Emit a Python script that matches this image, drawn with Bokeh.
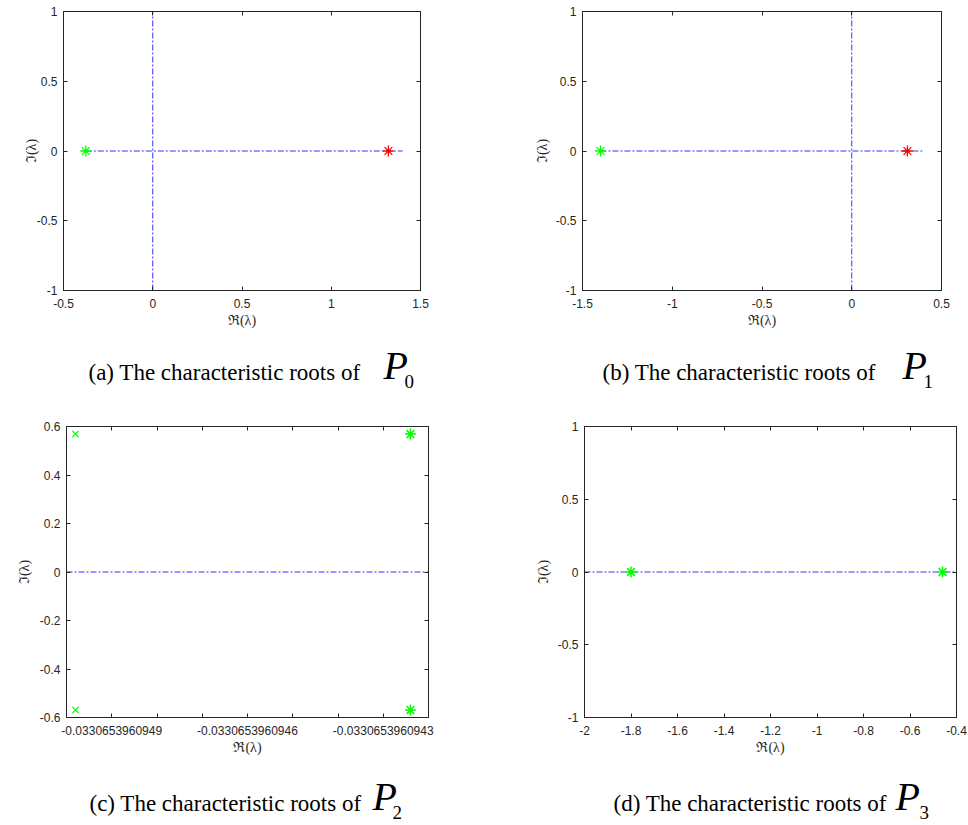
from bokeh.plotting import figure
from bokeh.models import FixedTicker, LinearAxis, Label, Range1d
from bokeh.layouts import column, row
from bokeh.embed import file_html
from bokeh.resources import INLINE

GREEN = "#00ff00"
RED = "#ff0000"
BLUE = "#0000ff"
INK = "#262626"

# ---------------- data ----------------
# (a) P0
a_re = [-0.375, 1.32]
a_im = [0.0, 0.0]
a_col = [GREEN, RED]
a_hline_x = [-0.375, 1.40]
a_hline_y = [0.0, 0.0]
a_vline_x = [0.0, 0.0]
a_vline_y = [-1.0, 1.0]
a_xrange = [-0.5, 1.5]
a_yrange = [-1.0, 1.0]
a_xticks = [-0.5, 0.0, 0.5, 1.0, 1.5]
a_xlabels = ["-0.5", "0", "0.5", "1", "1.5"]
a_yticks = [-1.0, -0.5, 0.0, 0.5, 1.0]
a_ylabels = ["-1", "-0.5", "0", "0.5", "1"]

# (b) P1
b_re = [-1.40, 0.31]
b_im = [0.0, 0.0]
b_col = [GREEN, RED]
b_hline_x = [-1.40, 0.40]
b_hline_y = [0.0, 0.0]
b_vline_x = [0.0, 0.0]
b_vline_y = [-1.0, 1.0]
b_xrange = [-1.5, 0.5]
b_yrange = [-1.0, 1.0]
b_xticks = [-1.5, -1.0, -0.5, 0.0, 0.5]
b_xlabels = ["-1.5", "-1", "-0.5", "0", "0.5"]
b_yticks = [-1.0, -0.5, 0.0, 0.5, 1.0]
b_ylabels = ["-1", "-0.5", "0", "0.5", "1"]

# (c) P2
c_cross_re = [-0.03306539609498, -0.03306539609498]
c_cross_im = [0.569, -0.569]
c_star_re = [-0.03306539609424, -0.03306539609424]
c_star_im = [0.569, -0.569]
c_hline_x = [-0.0330653960950, -0.0330653960942]
c_hline_y = [0.0, 0.0]
c_xrange = [-0.0330653960950, -0.0330653960942]
c_yrange = [-0.6, 0.6]
c_xticks = [-0.0330653960949, -0.0330653960948, -0.0330653960947,
            -0.0330653960946, -0.0330653960945, -0.0330653960944,
            -0.0330653960943]
c_xlabels = ["-0.0330653960949", "", "", "-0.0330653960946", "", "",
             "-0.0330653960943"]
c_yticks = [-0.6, -0.4, -0.2, 0.0, 0.2, 0.4, 0.6]
c_ylabels = ["-0.6", "-0.4", "-0.2", "0", "0.2", "0.4", "0.6"]

# (d) P3
d_re = [-1.80, -0.46]
d_im = [0.0, 0.0]
d_hline_x = [-2.0, -0.4]
d_hline_y = [0.0, 0.0]
d_xrange = [-2.0, -0.4]
d_yrange = [-1.0, 1.0]
d_xticks = [-2.0, -1.8, -1.6, -1.4, -1.2, -1.0, -0.8, -0.6, -0.4]
d_xlabels = ["-2", "-1.8", "-1.6", "-1.4", "-1.2", "-1", "-0.8", "-0.6", "-0.4"]
d_yticks = [-1.0, -0.5, 0.0, 0.5, 1.0]
d_ylabels = ["-1", "-0.5", "0", "0.5", "1"]

caption_text = ["(a) The characteristic roots of", "(b) The characteristic roots of",
                "(c) The characteristic roots of", "(d) The characteristic roots of"]
caption_sub = ["0", "1", "2", "3"]

DASH = "6 2 2 2"


def style_axis(ax, ticks, labels, standoff, show_labels=True):
    ax.ticker = FixedTicker(ticks=ticks)
    ax.major_tick_in = 4
    ax.major_tick_out = 0
    ax.minor_tick_in = 0
    ax.minor_tick_out = 0
    ax.major_tick_line_color = INK
    ax.axis_line_color = INK
    if show_labels:
        ax.major_label_overrides = dict(zip(ticks, labels))
        ax.major_label_text_font = "Liberation Sans"
        ax.major_label_text_font_size = "12px"
        ax.major_label_text_color = INK
        ax.major_label_standoff = standoff
    else:
        ax.major_label_overrides = {t: "" for t in ticks}
        ax.major_label_text_font_size = "0px"
        ax.major_label_standoff = 0


def make_fig(w, h, bl, br, bt, bb, xr, yr, xt, xl, yt, yl, ylab_standoff):
    p = figure(width=w, height=h, x_range=Range1d(*xr), y_range=Range1d(*yr),
               output_backend="svg", toolbar_location=None,
               min_border_left=bl, min_border_right=br,
               min_border_top=bt, min_border_bottom=bb,
               x_axis_label="ℜ(λ)", y_axis_label="ℑ(λ)")
    p.grid.visible = False
    p.outline_line_color = INK
    p.outline_line_width = 1
    p.background_fill_color = "white"
    p.border_fill_color = "white"
    xa = p.xaxis[0]
    ya = p.yaxis[0]
    style_axis(xa, xt, xl, 8)
    style_axis(ya, yt, yl, 6)
    for ax, so in ((xa, 2), (ya, ylab_standoff)):
        ax.axis_label_text_font = "Liberation Serif"
        ax.axis_label_text_font_size = "14px"
        ax.axis_label_text_font_style = "normal"
        ax.axis_label_text_color = INK
        ax.axis_label_standoff = so
    top = LinearAxis()
    style_axis(top, xt, xl, 0, show_labels=False)
    right = LinearAxis()
    style_axis(right, yt, yl, 0, show_labels=False)
    p.add_layout(top, "above")
    p.add_layout(right, "right")
    return p


def cap_label(h, x, base, text, size, style="normal"):
    # label vertically anchored at the middle of its em box
    return Label(x=x, y=h - base + 0.34 * size, x_units="screen", y_units="screen",
                 text=text, text_font="Liberation Serif", text_font_style=style,
                 text_font_size=f"{size}px", text_color="black",
                 text_baseline="alphabetic", text_align="left")


def caption_strip(h, items):
    # items: (index, text_x, baseline_from_strip_top, P_x, sub_x)
    p = figure(width=968, height=h, x_range=Range1d(0, 968), y_range=Range1d(0, h),
               output_backend="svg", toolbar_location=None, min_border=0,
               x_axis_location=None, y_axis_location=None)
    p.grid.visible = False
    p.outline_line_color = None
    p.background_fill_color = "white"
    p.border_fill_color = "white"
    for i, tx, base, px, sx in items:
        p.add_layout(cap_label(h, tx, base, caption_text[i], 23))
        p.add_layout(cap_label(h, px, base - 1, "P", 40, "italic"))
        p.add_layout(cap_label(h, sx, base + 7, caption_sub[i], 19))
    return p


# ---------------- (a) ----------------
pa = make_fig(440, 340, 63, 20, 11, 48, a_xrange, a_yrange,
              a_xticks, a_xlabels, a_yticks, a_ylabels, -5)
pa.line(a_hline_x, a_hline_y, line_color=BLUE, line_dash=DASH, line_width=1, line_alpha=0.8)
pa.line(a_vline_x, a_vline_y, line_color=BLUE, line_dash=DASH, line_width=1, line_alpha=0.8)
pa.scatter(a_re, a_im, marker="asterisk", size=11, line_color=a_col, line_width=1.3)

# ---------------- (b) ----------------
pb = make_fig(528, 340, 142, 27, 11, 50, b_xrange, b_yrange,
              b_xticks, b_xlabels, b_yticks, b_ylabels, 3)
pb.line(b_hline_x, b_hline_y, line_color=BLUE, line_dash=DASH, line_width=1, line_alpha=0.8)
pb.line(b_vline_x, b_vline_y, line_color=BLUE, line_dash=DASH, line_width=1, line_alpha=0.8)
pb.scatter(b_re, b_im, marker="asterisk", size=11, line_color=b_col, line_width=1.3)

# ---------------- (c) ----------------
pc = make_fig(460, 365, 66, 32, 26, 48, c_xrange, c_yrange,
              c_xticks, c_xlabels, c_yticks, c_ylabels, 5)
pc.line(c_hline_x, c_hline_y, line_color=BLUE, line_dash=DASH, line_width=1, line_alpha=0.8)
pc.scatter(c_cross_re, c_cross_im, marker="x", size=9, line_color=GREEN, line_width=1.2)
pc.scatter(c_star_re, c_star_im, marker="asterisk", size=11, line_color=GREEN, line_width=1.5)

# ---------------- (d) ----------------
pd_ = make_fig(508, 365, 124, 12, 25, 46, d_xrange, d_yrange,
               d_xticks, d_xlabels, d_yticks, d_ylabels, 4)
pd_.line(d_hline_x, d_hline_y, line_color=BLUE, line_dash=DASH, line_width=1, line_alpha=0.8)
pd_.scatter(d_re, d_im, marker="asterisk", size=11, line_color=GREEN, line_width=1.5)

# ---------------- captions ----------------
cap1 = caption_strip(60, [(0, 88, 40, 383, 404), (1, 602, 40, 902, 923)])
cap2 = caption_strip(60, [(2, 89, 46, 372, 392), (3, 613, 46, 895, 919)])

layout = column(row(pa, pb), cap1, row(pc, pd_), cap2)
open("out.html", "w").write(file_html(layout, INLINE))
